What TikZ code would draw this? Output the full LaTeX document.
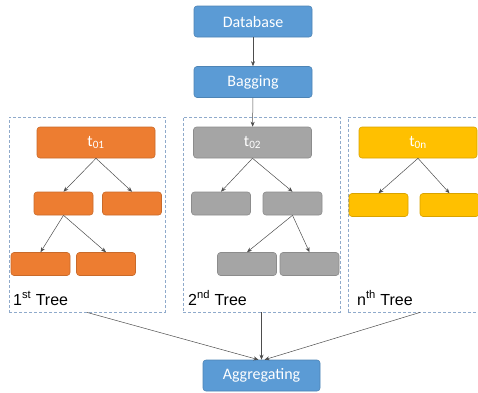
\documentclass[tikz,border=0pt]{standalone}
\usepackage{fontspec}
\setmainfont{Liberation Sans}
\newfontfamily\boxfont{Carlito}
\usepackage{tikz}
\usetikzlibrary{arrows.meta}

\definecolor{dbblue}{HTML}{5B9BD5}
\definecolor{treeorange}{HTML}{ED7D31}
\definecolor{treegray}{HTML}{A5A5A5}
\definecolor{treeyellow}{HTML}{FFC000}
\definecolor{framecol}{HTML}{8FAACB}
\definecolor{linecol}{HTML}{4D4D4D}

\begin{document}
\begin{tikzpicture}[x=1pt, y=-1pt,
  box/.style={draw=#1!85!black, fill=#1, rounded corners=3pt, line width=0.6pt,
    text=white, font=\boxfont\fontsize{16}{19}\selectfont, inner sep=0pt,
    minimum width=118pt, minimum height=31pt},
  leaf/.style={box=#1, minimum width=59pt, minimum height=23pt},
  frame/.style={draw=framecol, dash pattern=on 3pt off 2pt, line width=0.8pt,
    minimum height=195pt, inner sep=0pt},
  arr/.style={draw=linecol, line width=0.5pt, -{Stealth[length=5pt,width=4pt]}},
  lab/.style={anchor=base west, inner sep=0pt, font=\fontsize{16}{19}\selectfont}]
\clip (0,0) rectangle (478,392);
\useasboundingbox (0,0) rectangle (478,392);

% pipeline
\node[box=dbblue] (db) at (253,21.5) {Database};
\node[box=dbblue] (bag) at (253,82) {Bagging};
\node[box=dbblue, minimum width=117pt] (agg) at (261.5,375.5) {Aggregating};

% dashed frames round the trees
\foreach \n/\x/\w in {f1/87/156, f2/261.5/157, f3/420/144}
  \node[frame, minimum width=\w pt] (\n) at (\x,214.5) {};

% first tree
\node[box=treeorange] (t1) at (96,142.5) {t\textsubscript{01}};
\node[leaf=treeorange] (t1a) at (63.5,203.5) {};
\node[leaf=treeorange] (t1b) at (132,203.5) {};
\node[leaf=treeorange] (t1c) at (40.5,264) {};
\node[leaf=treeorange] (t1d) at (106,264) {};

% second tree
\node[box=treegray] (t2) at (252.5,142.5) {t\textsubscript{02}};
\node[leaf=treegray] (t2a) at (221,203.5) {};
\node[leaf=treegray] (t2b) at (292.5,203.5) {};
\node[leaf=treegray] (t2c) at (247,264) {};
\node[leaf=treegray] (t2d) at (309.5,264) {};

% n-th tree
\node[box=treeyellow] (tn) at (418,142.5) {t\textsubscript{0n}};
\node[leaf=treeyellow] (tna) at (378.5,205) {};
\node[leaf=treeyellow] (tnb) at (449.5,205) {};

\node[lab] (l1) at (13,305) {1\textsuperscript{st} Tree};
\node[lab] (l2) at (188,305) {2\textsuperscript{nd} Tree};
\node[lab] (ln) at (357,305) {n\textsuperscript{th} Tree};

\draw[arr] (db) -- (bag);
\draw[arr] (bag) -- (t2);
\foreach \a/\b in {t1/t1a, t1/t1b, t1a/t1c, t1a/t1d, t2/t2a, t2/t2b, t2b/t2c, t2b/t2d, tn/tna, tn/tnb}
  \draw[arr] (\a.south) -- (\b.north);
\draw[arr] (f1.south) -- ([xshift=-3pt]agg.north);
\draw[arr] (f2.south) -- (agg.north);
\draw[arr] (f3.south) -- ([xshift=3pt]agg.north);
\end{tikzpicture}
\end{document}
